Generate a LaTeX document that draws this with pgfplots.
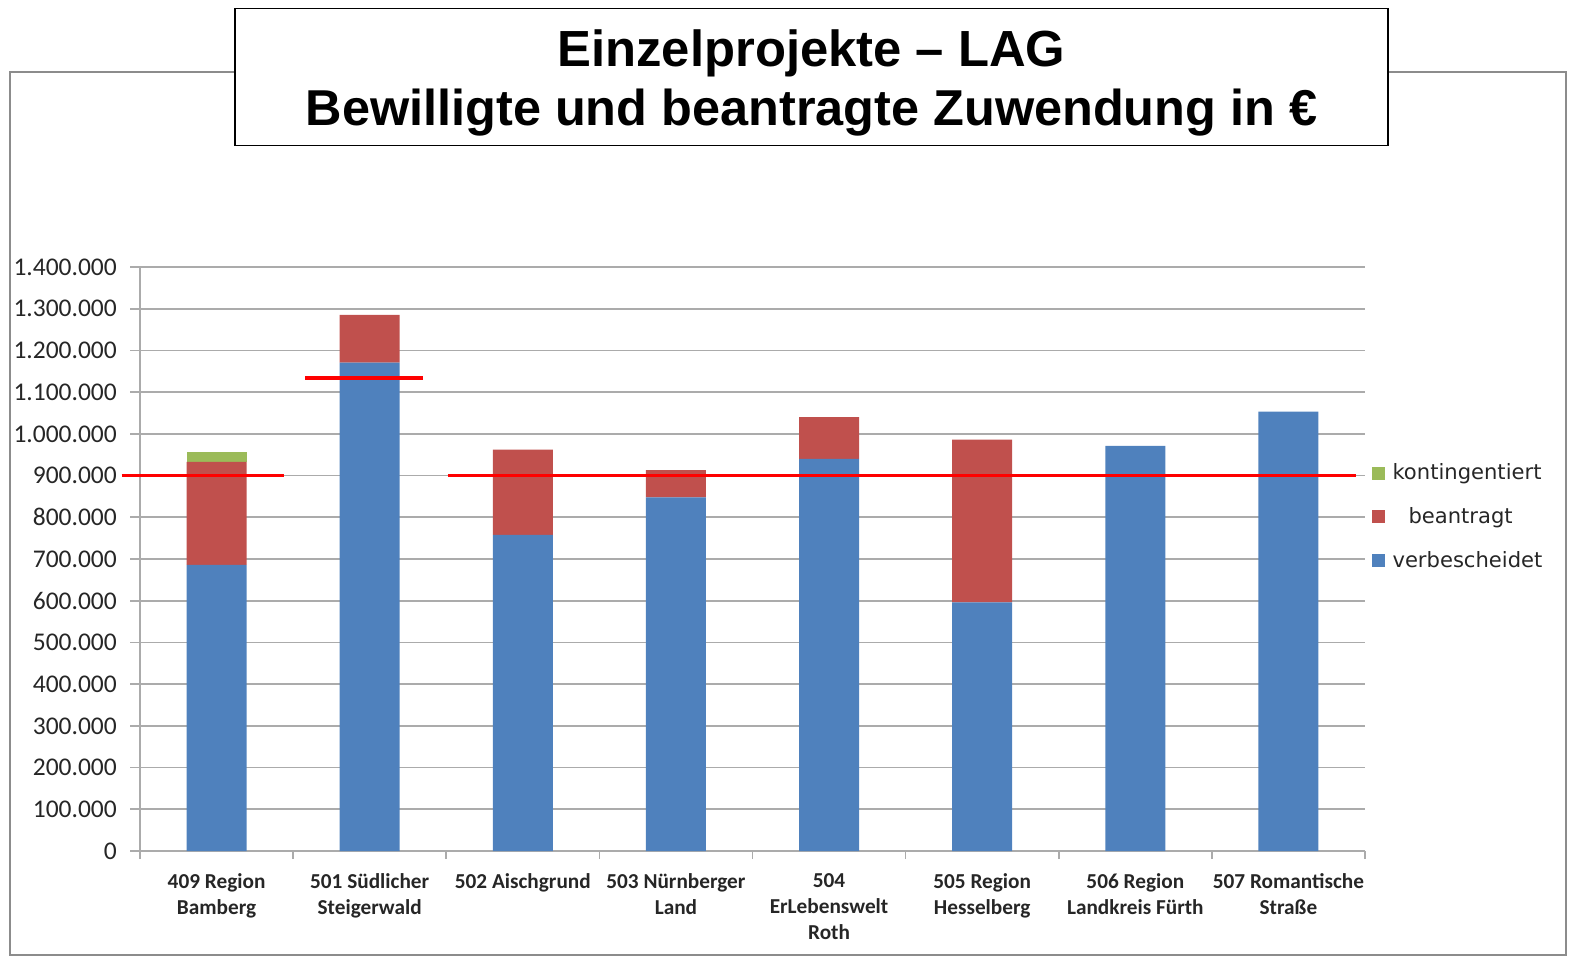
\documentclass[border=0pt]{standalone}
\usepackage{fontspec}
\setmainfont{Carlito}
\newfontfamily\dejavu{DejaVu Sans}
\newfontfamily\arial{Liberation Sans}
\usepackage{pgfplots}
\pgfplotsset{compat=1.18}
\definecolor{cblue}{HTML}{4F81BD}
\definecolor{cred}{HTML}{C0504D}
\definecolor{cgreen}{HTML}{9BBB59}
\definecolor{gridgray}{HTML}{ABABAB}
\definecolor{framegray}{HTML}{8C8C8C}
\definecolor{txt}{HTML}{262626}
\begin{document}
\begin{tikzpicture}
\path[use as bounding box] (0,0) rectangle (31.38cm,19.16cm);
\draw[framegray, line width=1.1pt] (0.2cm,17.72cm) rectangle (31.32cm,0.06cm);
\begin{axis}[
  at={(2.8cm,2.14cm)}, anchor=south west,
  scale only axis, width=24.5cm, height=11.68cm,
  xmin=-0.5, xmax=7.5, ymin=0, ymax=1400000,
  ybar stacked, bar width=1.2cm,
  axis x line*=bottom, axis y line*=left,
  axis line style={gridgray, line width=0.9pt},
  ymajorgrids, grid style={gridgray, line width=0.9pt},
  ytick={0,100000,...,1400000},
  scaled y ticks=false,
  /pgf/number format/fixed,
  /pgf/number format/1000 sep={.},
  /pgf/number format/assume math mode=true,
  tick align=outside,
  ytick style={gridgray, line width=0.9pt},
  major tick length=0.2cm,
  xtick={0,...,7},
  x tick style={draw=none},
  minor xtick={-0.5,0.5,...,7.5},
  minor x tick style={gridgray, line width=0.9pt, draw=gridgray},
  minor tick length=0.16cm,
  xticklabels={{409 Region\\Bamberg},{501 Südlicher\\Steigerwald},{502 Aischgrund},{503 Nürnberger\\Land},{504\\ErLebenswelt\\Roth},{505 Region\\Hesselberg},{506 Region\\Landkreis Fürth},{507 Romantische\\Straße}},
  xticklabel style={align=center, font=\bfseries\fontsize{12.1}{14.8}\selectfont, text=txt, yshift=-0.12cm},
  yticklabel style={font=\fontsize{14.5}{16}\selectfont, text=txt, xshift=-0.14cm},
  legend style={at={(1.004,0.572)}, anchor=west, draw=none, fill=none,
    font=\dejavu\fontsize{12}{14}\selectfont, text=txt,
    row sep=0.36cm, inner xsep=1pt},
  legend cell align=left,
  reverse legend,
  clip=false,
]
\addplot[fill=cblue, draw=none, legend image code/.code={\fill[cblue] (0cm,-0.13cm) rectangle (0.26cm,0.13cm);}]
  coordinates {(0,686000) (1,1171000) (2,758000) (3,848000) (4,940000) (5,596000) (6,971000) (7,1053000)};
\addlegendentry{\hspace*{0.08cm}verbescheidet}
\addplot[fill=cred, draw=none, legend image code/.code={\fill[cred] (0cm,-0.13cm) rectangle (0.26cm,0.13cm);}]
  coordinates {(0,247000) (1,114000) (2,204000) (3,65000) (4,100000) (5,390000) (6,0) (7,0)};
\addlegendentry{\hspace*{0.4cm}beantragt}
\addplot[fill=cgreen, draw=none, legend image code/.code={\fill[cgreen] (0cm,-0.13cm) rectangle (0.26cm,0.13cm);}]
  coordinates {(0,23000) (1,0) (2,0) (3,0) (4,0) (5,0) (6,0) (7,0)};
\addlegendentry{\hspace*{0.08cm}kontingentiert}
\end{axis}
\begin{axis}[
  at={(2.8cm,2.14cm)}, anchor=south west,
  scale only axis, width=24.5cm, height=11.68cm,
  xmin=-0.5, xmax=7.5, ymin=0, ymax=1400000,
  hide axis, clip=false,
]
\addplot[red, line width=2.2pt, no marks] coordinates {(-0.62,900000) (0.44,900000)};
\addplot[red, line width=2.2pt, no marks] coordinates {(0.58,1133000) (1.35,1133000)};
\addplot[red, line width=2.2pt, no marks] coordinates {(1.51,900000) (7.44,900000)};
\end{axis}
\draw[black, line width=0.9pt, fill=white] (4.7cm,18.99cm) rectangle (27.76cm,16.25cm);
\node[anchor=base, font=\arial\bfseries\fontsize{28.9}{30}\selectfont, inner sep=0pt] at (16.23cm,17.83cm) {Einzelprojekte – LAG};
\node[anchor=base, font=\arial\bfseries\fontsize{28.7}{30}\selectfont, inner sep=0pt] at (16.23cm,16.64cm) {Bewilligte und beantragte Zuwendung in €};
\end{tikzpicture}
\end{document}
